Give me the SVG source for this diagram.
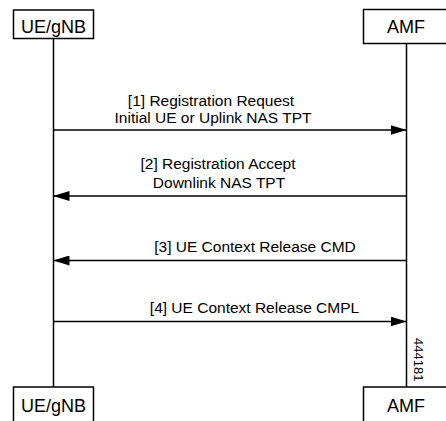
<svg xmlns="http://www.w3.org/2000/svg" width="446" height="421" viewBox="0 0 446 421">
<style>
.box{fill:#fff;stroke:#000;stroke-width:1.5}
.ll{stroke:#000;stroke-width:1.5;fill:none}
.msg{stroke:#000;stroke-width:1.5;fill:none}
.nl{font-family:"Liberation Sans",Arial,sans-serif;font-size:18px;fill:#000;text-anchor:middle}
.ml{font-family:"Liberation Sans",Arial,sans-serif;font-size:15.5px;fill:#000;text-anchor:middle}
.id{font-family:"Liberation Sans",Arial,sans-serif;font-size:13px;fill:#000}
</style>
<defs>
<marker id="ah" viewBox="0 0 16 10" refX="16" refY="5" markerWidth="16" markerHeight="10" markerUnits="userSpaceOnUse" orient="auto">
<path d="M0,0 L16,5 L0,10 Z" fill="#000"/>
</marker>
</defs>
<rect width="446" height="421" fill="#fff"/>
<g id="lifelines">
<line class="ll" x1="53.5" y1="38.5" x2="53.5" y2="387"/>
<line class="ll" x1="406.5" y1="43.5" x2="406.5" y2="387"/>
</g>
<g id="connectors">
<line class="msg" x1="53.5" y1="130" x2="406.5" y2="130" marker-end="url(#ah)"/>
<line class="msg" x1="406.5" y1="196" x2="53.5" y2="196" marker-end="url(#ah)"/>
<line class="msg" x1="406.5" y1="260.5" x2="53.5" y2="260.5" marker-end="url(#ah)"/>
<line class="msg" x1="53.5" y1="321.5" x2="406.5" y2="321.5" marker-end="url(#ah)"/>
<text class="ml" x="211" y="106">[1] Registration Request</text>
<text class="ml" x="213" y="123">Initial UE or Uplink NAS TPT</text>
<text class="ml" x="218" y="169">[2] Registration Accept</text>
<text class="ml" x="219" y="188">Downlink NAS TPT</text>
<text class="ml" x="255" y="252">[3] UE Context Release CMD</text>
<text class="ml" x="254.5" y="313">[4] UE Context Release CMPL</text>
</g>
<g id="ue-top">
<rect class="box" x="13.5" y="10" width="80" height="28.5"/>
<text class="nl" x="53.5" y="33">UE/gNB</text>
</g>
<g id="amf-top">
<rect class="box" x="363.5" y="9.5" width="90" height="34"/>
<text class="nl" x="406" y="33">AMF</text>
</g>
<g id="ue-bottom">
<rect class="box" x="13.5" y="387" width="80" height="40"/>
<text class="nl" x="53.5" y="412">UE/gNB</text>
</g>
<g id="amf-bottom">
<rect class="box" x="363.5" y="387" width="90" height="40"/>
<text class="nl" x="406" y="412">AMF</text>
</g>
<text class="id" transform="translate(414,338) rotate(90)">444181</text>
</svg>
